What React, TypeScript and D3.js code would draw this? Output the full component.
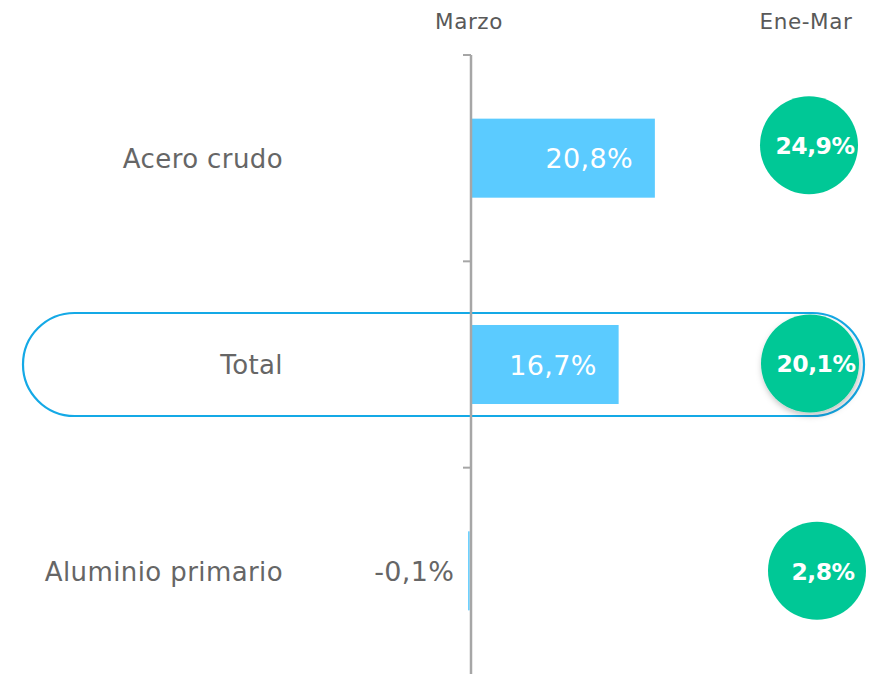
import React from "react";
import * as d3 from "d3";

const categories = ["Acero crudo", "Total", "Aluminio primario"];
const marzoValues = [20.8, 16.7, -0.1];
const eneMarValues = [24.9, 20.1, 2.8];
const headers = ["Marzo", "Ene-Mar"];
const highlighted = "Total";

const W = 870;
const H = 674;
const FONT = "'DejaVu Sans', 'Open Sans', sans-serif";

const fmt = (v: number) =>
  d3.format(".1f")(v).replace(".", ",").replace("\u2212", "-") + "%";

export default function App() {
  const x = d3.scaleLinear().domain([0, 25]).range([471, 471 + 221]);
  const y = d3
    .scaleBand<string>()
    .domain(categories)
    .range([55, H])
    .paddingInner(0.617)
    .paddingOuter(0.3085);
  const step = y.step();
  const yStart = 55;
  const bandEdges = categories.map((_, i) => yStart + i * step);
  const circleX = 810;
  const circleDy = [-13, -1, 0];
  const circleDx = [-1, 0, 7];
  const r = 49;

  return (
    <svg
      width={W}
      height={H}
      style={{ position: "absolute", left: 0, top: 0, display: "block" }}
      fontFamily={FONT}
    >
      <defs>
        <filter id="shadow" x="-30%" y="-30%" width="160%" height="160%">
          <feDropShadow dx="1" dy="3" stdDeviation="3" floodColor="#000" floodOpacity="0.25" />
        </filter>
      </defs>
      <rect width={W} height={H} fill="#fff" />
      {/* headers */}
      <text x={x(0) - 2} y={29} textAnchor="middle" fontSize={21.5} letterSpacing={0.6} fill="#595959">
        {headers[0]}
      </text>
      <text x={circleX - 4} y={29} textAnchor="middle" fontSize={21.5} letterSpacing={0.6} fill="#595959">
        {headers[1]}
      </text>

      {/* highlight pill */}
      {categories.map((c) =>
        c === highlighted ? (
          <rect
            key={"pill" + c}
            x={23}
            y={(y(c) as number) + y.bandwidth() / 2 - 51.5}
            width={841}
            height={103}
            rx={51.5}
            ry={51.5}
            fill="none"
            stroke="#14A9E6"
            strokeWidth={2.2}
          />
        ) : null
      )}

      {/* bars */}
      {categories.map((c, i) => {
        const v = marzoValues[i];
        const x0 = Math.min(x(0), x(v));
        const w = Math.abs(x(v) - x(0));
        return (
          <rect
            key={"bar" + c}
            x={v < 0 ? x0 - 2 : x0}
            y={y(c)}
            width={v < 0 ? Math.max(w, 1.5) : w}
            height={y.bandwidth()}
            fill="#5BCBFF"
          />
        );
      })}

      {/* axis */}
      <line x1={x(0)} x2={x(0)} y1={yStart} y2={H} stroke="#A6A6A6" strokeWidth={2.5} />
      {bandEdges.map((e, i) => (
        <line key={"t" + i} x1={x(0) - 8} x2={x(0)} y1={e} y2={e} stroke="#A6A6A6" strokeWidth={2} />
      ))}

      {/* category labels */}
      {categories.map((c) => (
        <text
          key={"lab" + c}
          x={283}
          y={(y(c) as number) + y.bandwidth() / 2}
          dy="0.38em"
          textAnchor="end"
          fontSize={26}
          letterSpacing={0.4}
          fill="#666666"
        >
          {c}
        </text>
      ))}

      {/* bar value labels */}
      {categories.map((c, i) => {
        const v = marzoValues[i];
        const cy = (y(c) as number) + y.bandwidth() / 2;
        return v >= 0 ? (
          <text
            key={"val" + c}
            x={x(v) - 22}
            y={cy}
            dy="0.38em"
            textAnchor="end"
            fontSize={27}
            letterSpacing={0.3}
            fill="#ffffff"
          >
            {fmt(v)}
          </text>
        ) : (
          <text
            key={"val" + c}
            x={x(v) - 16}
            y={cy}
            dy="0.38em"
            textAnchor="end"
            fontSize={27}
            letterSpacing={0.3}
            fill="#666666"
          >
            {fmt(v)}
          </text>
        );
      })}

      {/* circles */}
      {categories.map((c, i) => {
        const cy = (y(c) as number) + y.bandwidth() / 2 + circleDy[i];
        const cx = circleX + circleDx[i];
        return (
          <g key={"circ" + c}>
            <circle
              cx={cx}
              cy={cy}
              r={r}
              fill="#00C896"
              filter={c === highlighted ? "url(#shadow)" : undefined}
            />
            <text
              x={cx + 6}
              y={cy}
              dy="0.37em"
              textAnchor="middle"
              fontSize={23.5}
              fontWeight="bold"
              letterSpacing={-0.5}
              fill="#ffffff"
            >
              {fmt(eneMarValues[i])}
            </text>
          </g>
        );
      })}
    </svg>
  );
}
